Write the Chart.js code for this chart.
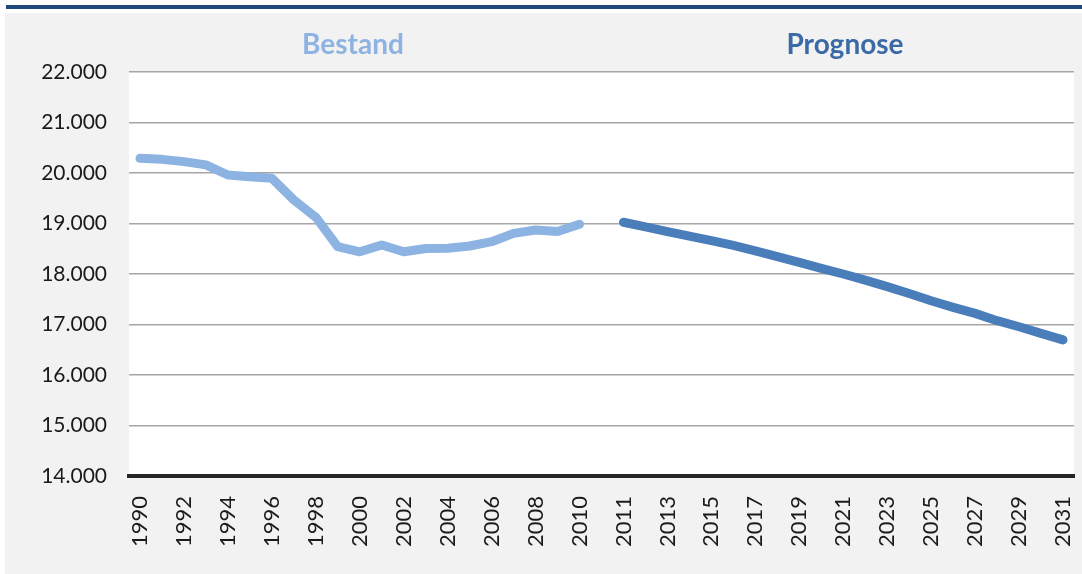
<!DOCTYPE html>
<html>
<head>
<meta charset="utf-8">
<script src="https://cdn.jsdelivr.net/npm/chart.js@4/dist/chart.umd.min.js"></script>
<style>
  html, body { margin: 0; padding: 0; background: #fff; }
  #wrap { width: 1082px; height: 574px; position: relative; }
</style>
</head>
<body>
<div id="wrap"><canvas id="einwohner"></canvas></div>
<script>
// Jahre: Bestand 1990-2010, eine leere Spalte, dann Prognose 2011-2031
var jahreBestand = [1990,1991,1992,1993,1994,1995,1996,1997,1998,1999,2000,
                    2001,2002,2003,2004,2005,2006,2007,2008,2009,2010];
var jahrePrognose = [2011,2012,2013,2014,2015,2016,2017,2018,2019,2020,2021,
                     2022,2023,2024,2025,2026,2027,2028,2029,2030,2031];

var werteBestand = [20290,20270,20225,20160,19960,19925,19895,19465,19125,18540,18440,
                    18575,18440,18505,18510,18555,18640,18805,18870,18840,18985];
var wertePrognose = [19025,18935,18840,18750,18660,18565,18460,18345,18230,18110,18000,
                     17880,17750,17615,17470,17340,17220,17075,16955,16825,16695];

var yTicks = [14000,15000,16000,17000,18000,19000,20000,21000,22000];

var labels = jahreBestand.map(String).concat([''], jahrePrognose.map(String));
var nullen = function (n) { var a = []; for (var i = 0; i < n; i++) a.push(null); return a; };
var datenBestand = werteBestand.concat(nullen(1 + jahrePrognose.length));
var datenPrognose = nullen(jahreBestand.length + 1).concat(wertePrognose);

function tausender(v) {
  return String(Math.round(v / 1000)) + '.000';
}

// Hintergrund, Rahmenlinie oben und die beiden Bereichsueberschriften
var rahmen = {
  id: 'rahmen',
  beforeDraw: function (chart) {
    var ctx = chart.ctx, a = chart.chartArea;
    ctx.save();
    ctx.fillStyle = '#ffffff';
    ctx.fillRect(0, 0, chart.width, chart.height);
    ctx.fillStyle = '#f2f2f2';
    ctx.fillRect(5, 13, chart.width - 5, chart.height - 13);
    ctx.fillStyle = '#1f497d';
    ctx.fillRect(6, 5, chart.width - 6, 4);
    ctx.fillStyle = '#ffffff';
    ctx.fillRect(a.left, a.top, a.right - a.left, a.bottom - a.top);
    ctx.restore();
  },
  afterDraw: function (chart) {
    var ctx = chart.ctx;
    ctx.save();
    ctx.font = 'bold 28px Lato';
    ctx.textAlign = 'center';
    ctx.textBaseline = 'alphabetic';
    ctx.fillStyle = '#8db3e2';
    ctx.fillText('Bestand', 353, 54);
    ctx.fillStyle = '#3b6aa6';
    ctx.fillText('Prognose', 845, 54);
    ctx.restore();
  }
};

new Chart('einwohner', {
  type: 'line',
  data: {
    labels: labels,
    datasets: [{
      label: 'Bestand',
      data: datenBestand,
      borderColor: '#8db3e2',
      borderWidth: 9,
      borderCapStyle: 'round',
      borderJoinStyle: 'round',
      pointRadius: 0,
      tension: 0,
      spanGaps: false
    }, {
      label: 'Prognose',
      data: datenPrognose,
      borderColor: '#4a7ebb',
      borderWidth: 9,
      borderCapStyle: 'round',
      borderJoinStyle: 'round',
      pointRadius: 0,
      tension: 0,
      spanGaps: false
    }]
  },
  options: {
    responsive: true,
    maintainAspectRatio: false,
    animation: false,
    devicePixelRatio: 1,
    layout: { padding: { top: 72, right: 8, left: 0, bottom: 0 } },
    plugins: {
      legend: { display: false },
      tooltip: { enabled: false }
    },
    scales: {
      x: {
        offset: true,
        grid: { display: false, drawTicks: false },
        border: { display: true, color: '#262626', width: 4 },
        ticks: {
          autoSkip: false,
          maxRotation: 90,
          minRotation: 90,
          padding: 20,
          color: '#1a1a1a',
          font: { family: 'Lato', size: 22 },
          callback: function (v, i) { return i % 2 === 0 ? this.getLabelForValue(v) : ''; }
        },
        afterFit: function (s) {
          s.height = 98;
          s.paddingLeft = 0;
          s.paddingRight = 0;
        }
      },
      y: {
        min: 14000,
        max: 22000,
        afterBuildTicks: function (s) { s.ticks = yTicks.map(function (v) { return { value: v }; }); },
        grid: { color: '#a6a6a6', lineWidth: 1.5, drawTicks: false },
        border: { display: false },
        ticks: {
          padding: 22,
          color: '#1a1a1a',
          font: { family: 'Lato', size: 21 },
          callback: function (v) { return tausender(v); }
        },
        afterFit: function (s) {
          s.width = 129;
          s.paddingTop = 0;
          s.paddingBottom = 0;
        }
      }
    }
  },
  plugins: [rahmen]
});
</script>
</body>
</html>
